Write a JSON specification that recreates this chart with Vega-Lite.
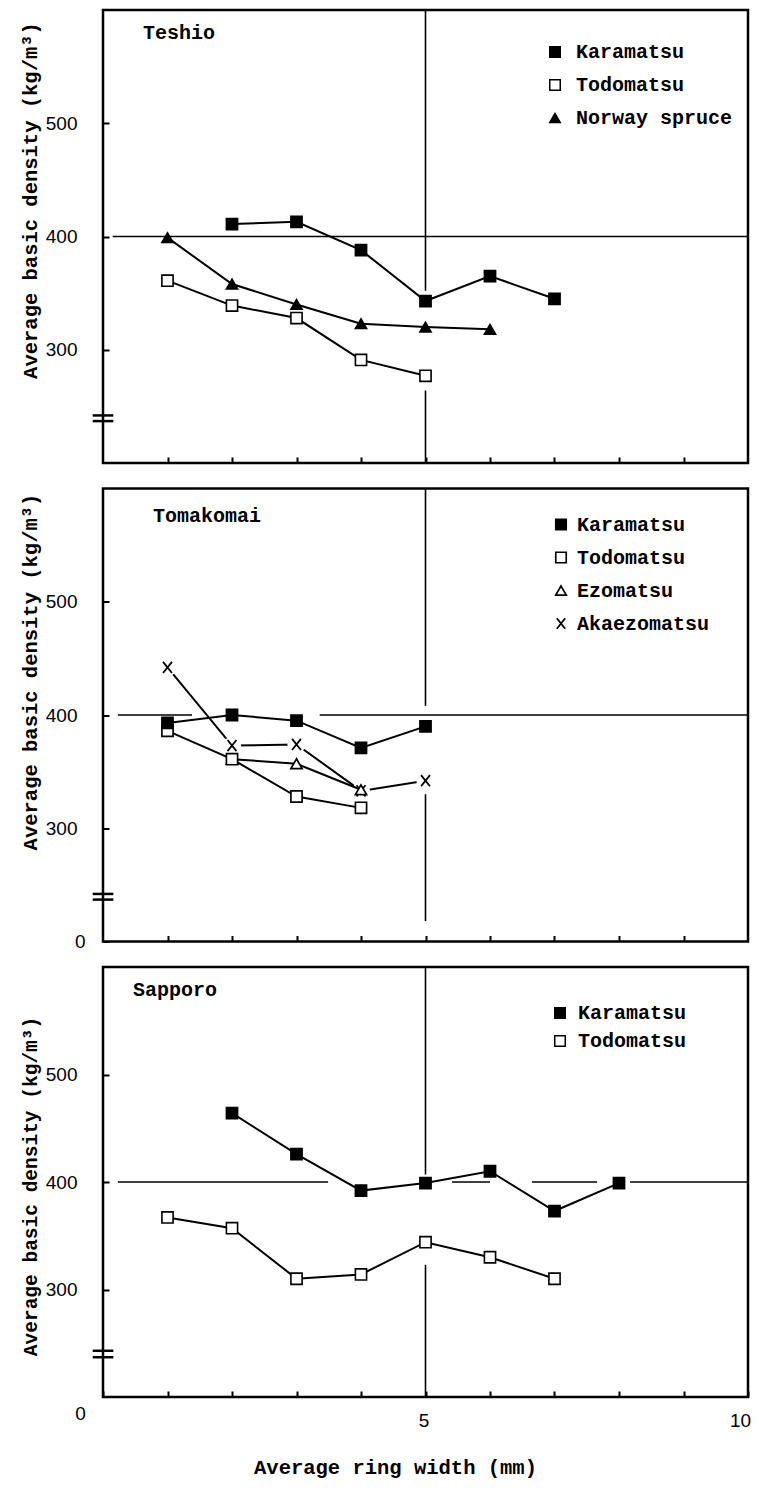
{
  "$schema": "https://vega.github.io/schema/vega-lite/v6.json",
  "background": "white",
  "padding": {"left": 18, "top": 7, "right": 5, "bottom": 10},
  "bounds": "flush",
  "spacing": 25.5,
  "datasets": {
    "points": [
      {"site": "Teshio", "species": "Karamatsu", "width": 2, "density": 411},
      {"site": "Teshio", "species": "Karamatsu", "width": 3, "density": 413},
      {"site": "Teshio", "species": "Karamatsu", "width": 4, "density": 388},
      {"site": "Teshio", "species": "Karamatsu", "width": 5, "density": 343},
      {"site": "Teshio", "species": "Karamatsu", "width": 6, "density": 365},
      {"site": "Teshio", "species": "Karamatsu", "width": 7, "density": 345},
      {"site": "Teshio", "species": "Todomatsu", "width": 1, "density": 361},
      {"site": "Teshio", "species": "Todomatsu", "width": 2, "density": 339},
      {"site": "Teshio", "species": "Todomatsu", "width": 3, "density": 328},
      {"site": "Teshio", "species": "Todomatsu", "width": 4, "density": 291},
      {"site": "Teshio", "species": "Todomatsu", "width": 5, "density": 277},
      {"site": "Teshio", "species": "Norway spruce", "width": 1, "density": 399},
      {"site": "Teshio", "species": "Norway spruce", "width": 2, "density": 358},
      {"site": "Teshio", "species": "Norway spruce", "width": 3, "density": 340},
      {"site": "Teshio", "species": "Norway spruce", "width": 4, "density": 323},
      {"site": "Teshio", "species": "Norway spruce", "width": 5, "density": 320},
      {"site": "Teshio", "species": "Norway spruce", "width": 6, "density": 318},
      {"site": "Tomakomai", "species": "Akaezomatsu", "width": 1, "density": 442},
      {"site": "Tomakomai", "species": "Akaezomatsu", "width": 2, "density": 373},
      {"site": "Tomakomai", "species": "Akaezomatsu", "width": 3, "density": 374},
      {"site": "Tomakomai", "species": "Akaezomatsu", "width": 4, "density": 333},
      {"site": "Tomakomai", "species": "Akaezomatsu", "width": 5, "density": 342},
      {"site": "Tomakomai", "species": "Ezomatsu", "width": 2, "density": 361},
      {"site": "Tomakomai", "species": "Ezomatsu", "width": 3, "density": 357},
      {"site": "Tomakomai", "species": "Ezomatsu", "width": 4, "density": 334},
      {"site": "Tomakomai", "species": "Todomatsu", "width": 1, "density": 386},
      {"site": "Tomakomai", "species": "Todomatsu", "width": 2, "density": 361},
      {"site": "Tomakomai", "species": "Todomatsu", "width": 3, "density": 328},
      {"site": "Tomakomai", "species": "Todomatsu", "width": 4, "density": 318},
      {"site": "Tomakomai", "species": "Karamatsu", "width": 1, "density": 393},
      {"site": "Tomakomai", "species": "Karamatsu", "width": 2, "density": 400},
      {"site": "Tomakomai", "species": "Karamatsu", "width": 3, "density": 395},
      {"site": "Tomakomai", "species": "Karamatsu", "width": 4, "density": 371},
      {"site": "Tomakomai", "species": "Karamatsu", "width": 5, "density": 390},
      {"site": "Sapporo", "species": "Karamatsu", "width": 2, "density": 464},
      {"site": "Sapporo", "species": "Karamatsu", "width": 3, "density": 426},
      {"site": "Sapporo", "species": "Karamatsu", "width": 4, "density": 392},
      {"site": "Sapporo", "species": "Karamatsu", "width": 5, "density": 399},
      {"site": "Sapporo", "species": "Karamatsu", "width": 6, "density": 410},
      {"site": "Sapporo", "species": "Karamatsu", "width": 7, "density": 373},
      {"site": "Sapporo", "species": "Karamatsu", "width": 8, "density": 399},
      {"site": "Sapporo", "species": "Todomatsu", "width": 1, "density": 367},
      {"site": "Sapporo", "species": "Todomatsu", "width": 2, "density": 357},
      {"site": "Sapporo", "species": "Todomatsu", "width": 3, "density": 310},
      {"site": "Sapporo", "species": "Todomatsu", "width": 4, "density": 314},
      {"site": "Sapporo", "species": "Todomatsu", "width": 5, "density": 344},
      {"site": "Sapporo", "species": "Todomatsu", "width": 6, "density": 330},
      {"site": "Sapporo", "species": "Todomatsu", "width": 7, "density": 310}
    ],
    "guides": [
      {"site": "Teshio", "kind": "ref", "x": 0.15, "x2": 10, "y": 400, "y2": 400},
      {"site": "Teshio", "kind": "ref", "x": 5, "x2": 5, "y": 600, "y2": 352},
      {"site": "Teshio", "kind": "ref", "x": 5, "x2": 5, "y": 264, "y2": 200},
      {"site": "Teshio", "kind": "break", "x": -0.16, "x2": 0.16, "y": 242, "y2": 242},
      {"site": "Teshio", "kind": "break", "x": -0.16, "x2": 0.16, "y": 237, "y2": 237},
      {"site": "Tomakomai", "kind": "ref", "x": 0.23, "x2": 1.38, "y": 400, "y2": 400},
      {"site": "Tomakomai", "kind": "ref", "x": 3.36, "x2": 10, "y": 400, "y2": 400},
      {"site": "Tomakomai", "kind": "ref", "x": 5, "x2": 5, "y": 600, "y2": 408},
      {"site": "Tomakomai", "kind": "ref", "x": 5, "x2": 5, "y": 330, "y2": 218},
      {"site": "Tomakomai", "kind": "break", "x": -0.16, "x2": 0.16, "y": 242, "y2": 242},
      {"site": "Tomakomai", "kind": "break", "x": -0.16, "x2": 0.16, "y": 237, "y2": 237},
      {"site": "Sapporo", "kind": "ref", "x": 0.23, "x2": 3.49, "y": 400, "y2": 400},
      {"site": "Sapporo", "kind": "ref", "x": 5.41, "x2": 6.0, "y": 400, "y2": 400},
      {"site": "Sapporo", "kind": "ref", "x": 6.65, "x2": 7.66, "y": 400, "y2": 400},
      {"site": "Sapporo", "kind": "ref", "x": 8.17, "x2": 10, "y": 400, "y2": 400},
      {"site": "Sapporo", "kind": "ref", "x": 5, "x2": 5, "y": 600, "y2": 407},
      {"site": "Sapporo", "kind": "ref", "x": 5, "x2": 5, "y": 323, "y2": 200},
      {"site": "Sapporo", "kind": "break", "x": -0.16, "x2": 0.16, "y": 243, "y2": 243},
      {"site": "Sapporo", "kind": "break", "x": -0.16, "x2": 0.16, "y": 237, "y2": 237}
    ]
  },
  "vconcat": [
    {
      "width": 645,
      "height": 453,
      "title": {"text": "Teshio", "anchor": "start", "frame": "group", "offset": 0, "dx": 40, "dy": 44, "baseline": "middle", "font": "Liberation Mono", "fontSize": 20, "fontWeight": "bold", "color": "black"},
      "layer": [
        {
          "data": {"name": "guides"},
          "transform": [{"filter": "datum.site == 'Teshio' && datum.kind == 'ref'"}],
          "mark": {"type": "rule", "color": "black", "strokeWidth": 1.6},
          "encoding": {
            "x": {"field": "x", "type": "quantitative", "scale": {"domain": [0, 10], "nice": false, "zero": false},
                  "axis": {"values": [1, 2, 3, 4, 5, 6, 7, 8, 9], "labels": false, "title": null, "grid": false, "domain": false, "offset": -6, "tickSize": 6, "tickWidth": 2}},
            "x2": {"field": "x2"},
            "y": {"field": "y", "type": "quantitative", "scale": {"domain": [200, 600], "nice": false, "zero": false},
                  "axis": {"values": [300, 400, 500], "title": "Average basic density (kg/m³)", "grid": false, "domain": false, "offset": -6, "tickSize": 6, "tickWidth": 2, "labelPadding": 26, "labelFont": "Liberation Sans", "labelFontSize": 19, "titleFont": "Liberation Mono", "titleFontSize": 20.5, "titleFontWeight": "bold", "titleX": -79, "titleY": 190, "titleAngle": -90, "titleAlign": "center", "titleBaseline": "middle"}},
            "y2": {"field": "y2"}
          }
        },
        {
          "data": {"name": "guides"},
          "transform": [{"filter": "datum.site == 'Teshio' && datum.kind == 'break'"}],
          "mark": {"type": "rule", "color": "black", "strokeWidth": 2.5},
          "encoding": {"x": {"field": "x", "type": "quantitative"}, "x2": {"field": "x2"}, "y": {"field": "y", "type": "quantitative"}, "y2": {"field": "y2"}}
        },
        {
          "data": {"name": "points"},
          "transform": [{"filter": "datum.site == 'Teshio'"}],
          "mark": {"type": "line", "color": "black", "strokeWidth": 2},
          "encoding": {"x": {"field": "width", "type": "quantitative"}, "y": {"field": "density", "type": "quantitative"}, "detail": {"field": "species", "type": "nominal"}}
        },
        {
          "data": {"name": "points"},
          "transform": [{"filter": "datum.site == 'Teshio'"}],
          "mark": {"type": "point", "opacity": 1, "stroke": "black", "strokeWidth": 1.6, "size": 125},
          "encoding": {
            "x": {"field": "width", "type": "quantitative"},
            "y": {"field": "density", "type": "quantitative"},
            "shape": {"field": "species", "type": "nominal", "scale": {"domain": ["Karamatsu", "Todomatsu", "Norway spruce"], "range": ["square", "square", "triangle-up"]},
                      "legend": {"orient": "none", "legendX": 442, "legendY": 32, "title": null, "padding": 0, "rowPadding": 13, "labelOffset": 11, "labelFont": "Liberation Mono", "labelFontSize": 20, "labelFontWeight": "bold", "labelColor": "black", "symbolSize": 110,
                                 "encode": {"symbols": {"update": {"stroke": {"value": "black"}, "strokeWidth": {"value": 1.6}}}}}},
            "fill": {"field": "species", "type": "nominal", "scale": {"domain": ["Karamatsu", "Todomatsu", "Norway spruce"], "range": ["black", "white", "black"]},
                     "legend": {"orient": "none", "legendX": 442, "legendY": 32, "title": null, "padding": 0, "rowPadding": 13, "labelOffset": 11, "labelFont": "Liberation Mono", "labelFontSize": 20, "labelFontWeight": "bold", "labelColor": "black", "symbolSize": 110,
                                "encode": {"symbols": {"update": {"stroke": {"value": "black"}, "strokeWidth": {"value": 1.6}}}}}}
          }
        }
      ]
    },
    {
      "width": 645,
      "height": 453,
      "title": {"text": "Tomakomai", "anchor": "start", "frame": "group", "offset": 0, "dx": 50, "dy": 48, "baseline": "middle", "font": "Liberation Mono", "fontSize": 20, "fontWeight": "bold", "color": "black"},
      "layer": [
        {
          "data": {"name": "guides"},
          "transform": [{"filter": "datum.site == 'Tomakomai' && datum.kind == 'ref'"}],
          "mark": {"type": "rule", "color": "black", "strokeWidth": 1.6},
          "encoding": {
            "x": {"field": "x", "type": "quantitative", "scale": {"domain": [0, 10], "nice": false, "zero": false},
                  "axis": {"values": [1, 2, 3, 4, 5, 6, 7, 8, 9], "labels": false, "title": null, "grid": false, "domain": false, "offset": -6, "tickSize": 6, "tickWidth": 2}},
            "x2": {"field": "x2"},
            "y": {"field": "y", "type": "quantitative", "scale": {"domain": [200, 600], "nice": false, "zero": false},
                  "axis": {"values": [200, 300, 400, 500], "labelExpr": "datum.value == 200 ? '0' : datum.label", "title": "Average basic density (kg/m³)", "grid": false, "domain": false, "offset": -6, "tickSize": 6, "tickWidth": 2,
                           "labelPadding": {"condition": {"test": "datum.value == 200", "value": 18}, "value": 26},
                           "labelFont": "Liberation Sans", "labelFontSize": 19, "titleFont": "Liberation Mono", "titleFontSize": 20.5, "titleFontWeight": "bold", "titleX": -79, "titleY": 183, "titleAngle": -90, "titleAlign": "center", "titleBaseline": "middle"}},
            "y2": {"field": "y2"}
          }
        },
        {
          "data": {"name": "guides"},
          "transform": [{"filter": "datum.site == 'Tomakomai' && datum.kind == 'break'"}],
          "mark": {"type": "rule", "color": "black", "strokeWidth": 2.5},
          "encoding": {"x": {"field": "x", "type": "quantitative"}, "x2": {"field": "x2"}, "y": {"field": "y", "type": "quantitative"}, "y2": {"field": "y2"}}
        },
        {
          "data": {"name": "points"},
          "transform": [{"filter": "datum.site == 'Tomakomai' && datum.species == 'Akaezomatsu'"}],
          "mark": {"type": "line", "color": "black", "strokeWidth": 2},
          "encoding": {"x": {"field": "width", "type": "quantitative"}, "y": {"field": "density", "type": "quantitative"}}
        },
        {
          "data": {"name": "points"},
          "transform": [{"filter": "datum.site == 'Tomakomai' && datum.species == 'Akaezomatsu'"}],
          "mark": {"type": "circle", "color": "white", "opacity": 1, "size": 330},
          "encoding": {"x": {"field": "width", "type": "quantitative"}, "y": {"field": "density", "type": "quantitative"}}
        },
        {
          "data": {"name": "points"},
          "transform": [{"filter": "datum.site == 'Tomakomai' && datum.species != 'Akaezomatsu'"}],
          "mark": {"type": "line", "color": "black", "strokeWidth": 2},
          "encoding": {"x": {"field": "width", "type": "quantitative"}, "y": {"field": "density", "type": "quantitative"}, "detail": {"field": "species", "type": "nominal"}}
        },
        {
          "data": {"name": "points"},
          "transform": [{"filter": "datum.site == 'Tomakomai'"}],
          "mark": {"type": "point", "opacity": 1, "stroke": "black", "size": 125},
          "encoding": {
            "x": {"field": "width", "type": "quantitative"},
            "y": {"field": "density", "type": "quantitative"},
            "shape": {"field": "species", "type": "nominal", "scale": {"domain": ["Karamatsu", "Todomatsu", "Ezomatsu", "Akaezomatsu"], "range": ["square", "square", "triangle-up", "M-0.8,-1L0.8,1M-0.8,1L0.8,-1"]},
                      "legend": {"orient": "none", "legendX": 448, "legendY": 26, "title": null, "padding": 0, "rowPadding": 13, "labelOffset": 6, "labelFont": "Liberation Mono", "labelFontSize": 20, "labelFontWeight": "bold", "labelColor": "black", "symbolSize": 110,
                                 "encode": {"symbols": {"update": {"stroke": {"value": "black"}}}}}},
            "fill": {"field": "species", "type": "nominal", "scale": {"domain": ["Karamatsu", "Todomatsu", "Ezomatsu", "Akaezomatsu"], "range": ["black", "white", "white", "transparent"]},
                     "legend": {"orient": "none", "legendX": 448, "legendY": 26, "title": null, "padding": 0, "rowPadding": 13, "labelOffset": 6, "labelFont": "Liberation Mono", "labelFontSize": 20, "labelFontWeight": "bold", "labelColor": "black", "symbolSize": 110,
                                "encode": {"symbols": {"update": {"stroke": {"value": "black"}}}}}},
            "strokeWidth": {"field": "species", "type": "nominal", "scale": {"domain": ["Karamatsu", "Todomatsu", "Ezomatsu", "Akaezomatsu"], "range": [1.6, 1.8, 1.8, 3]},
                     "legend": {"orient": "none", "legendX": 448, "legendY": 26, "title": null, "padding": 0, "rowPadding": 13, "labelOffset": 6, "labelFont": "Liberation Mono", "labelFontSize": 20, "labelFontWeight": "bold", "labelColor": "black", "symbolSize": 110,
                                "encode": {"symbols": {"update": {"stroke": {"value": "black"}}}}}}
          }
        }
      ]
    },
    {
      "width": 645,
      "height": 430,
      "title": {"text": "Sapporo", "anchor": "start", "frame": "group", "offset": 0, "dx": 30, "dy": 44, "baseline": "middle", "font": "Liberation Mono", "fontSize": 20, "fontWeight": "bold", "color": "black"},
      "layer": [
        {
          "data": {"name": "guides"},
          "transform": [{"filter": "datum.site == 'Sapporo' && datum.kind == 'ref'"}],
          "mark": {"type": "rule", "color": "black", "strokeWidth": 1.6},
          "encoding": {
            "x": {"field": "x", "type": "quantitative", "scale": {"domain": [0, 10], "nice": false, "zero": false},
                  "axis": {"values": [0, 1, 2, 3, 4, 5, 6, 7, 8, 9, 10], "labelExpr": "datum.value % 5 == 0 ? '' + datum.value : ''", "labelFlush": false, "labelOverlap": false, "labelFont": "Liberation Sans", "labelFontSize": 19,
                           "labelPadding": {"condition": {"test": "datum.value == 0", "value": 7}, "value": 14},
                           "labelOffset": {"condition": [{"test": "datum.value == 0", "value": -23}, {"test": "datum.value == 10", "value": -8}], "value": -2},
                           "title": "Average ring width (mm)", "titleFont": "Liberation Mono", "titleFontSize": 20.5, "titleFontWeight": "bold", "titleX": 292, "titleY": 76, "titleAlign": "center", "titleBaseline": "middle",
                           "grid": false, "domain": false, "offset": -6, "tickSize": 6, "tickWidth": 2}},
            "x2": {"field": "x2"},
            "y": {"field": "y", "type": "quantitative", "scale": {"domain": [200, 600], "nice": false, "zero": false},
                  "axis": {"values": [300, 400, 500], "title": "Average basic density (kg/m³)", "grid": false, "domain": false, "offset": -6, "tickSize": 6, "tickWidth": 2, "labelPadding": 26, "labelFont": "Liberation Sans", "labelFontSize": 19, "titleFont": "Liberation Mono", "titleFontSize": 19.5, "titleFontWeight": "bold", "titleX": -79, "titleY": 219, "titleAngle": -90, "titleAlign": "center", "titleBaseline": "middle"}},
            "y2": {"field": "y2"}
          }
        },
        {
          "data": {"name": "guides"},
          "transform": [{"filter": "datum.site == 'Sapporo' && datum.kind == 'break'"}],
          "mark": {"type": "rule", "color": "black", "strokeWidth": 2.5},
          "encoding": {"x": {"field": "x", "type": "quantitative"}, "x2": {"field": "x2"}, "y": {"field": "y", "type": "quantitative"}, "y2": {"field": "y2"}}
        },
        {
          "data": {"name": "points"},
          "transform": [{"filter": "datum.site == 'Sapporo'"}],
          "mark": {"type": "line", "color": "black", "strokeWidth": 2},
          "encoding": {"x": {"field": "width", "type": "quantitative"}, "y": {"field": "density", "type": "quantitative"}, "detail": {"field": "species", "type": "nominal"}}
        },
        {
          "data": {"name": "points"},
          "transform": [{"filter": "datum.site == 'Sapporo'"}],
          "mark": {"type": "point", "opacity": 1, "stroke": "black", "strokeWidth": 1.6, "size": 125},
          "encoding": {
            "x": {"field": "width", "type": "quantitative"},
            "y": {"field": "density", "type": "quantitative"},
            "shape": {"field": "species", "type": "nominal", "scale": {"domain": ["Karamatsu", "Todomatsu"], "range": ["square", "square"]},
                      "legend": {"orient": "none", "legendX": 447, "legendY": 36, "title": null, "padding": 0, "rowPadding": 8, "labelOffset": 8, "labelFont": "Liberation Mono", "labelFontSize": 20, "labelFontWeight": "bold", "labelColor": "black", "symbolSize": 110,
                                 "encode": {"symbols": {"update": {"stroke": {"value": "black"}, "strokeWidth": {"value": 1.6}}}}}},
            "fill": {"field": "species", "type": "nominal", "scale": {"domain": ["Karamatsu", "Todomatsu"], "range": ["black", "white"]},
                     "legend": {"orient": "none", "legendX": 447, "legendY": 36, "title": null, "padding": 0, "rowPadding": 8, "labelOffset": 8, "labelFont": "Liberation Mono", "labelFontSize": 20, "labelFontWeight": "bold", "labelColor": "black", "symbolSize": 110,
                                "encode": {"symbols": {"update": {"stroke": {"value": "black"}, "strokeWidth": {"value": 1.6}}}}}}
          }
        }
      ]
    }
  ],
  "resolve": {
    "scale": {"x": "independent", "y": "independent", "shape": "independent", "fill": "independent", "strokeWidth": "independent"},
    "legend": {"shape": "independent", "fill": "independent", "strokeWidth": "independent"}
  },
  "config": {
    "view": {"stroke": "black", "strokeWidth": 2.5},
    "axis": {"labelColor": "black", "tickColor": "black", "titleColor": "black"}
  }
}
